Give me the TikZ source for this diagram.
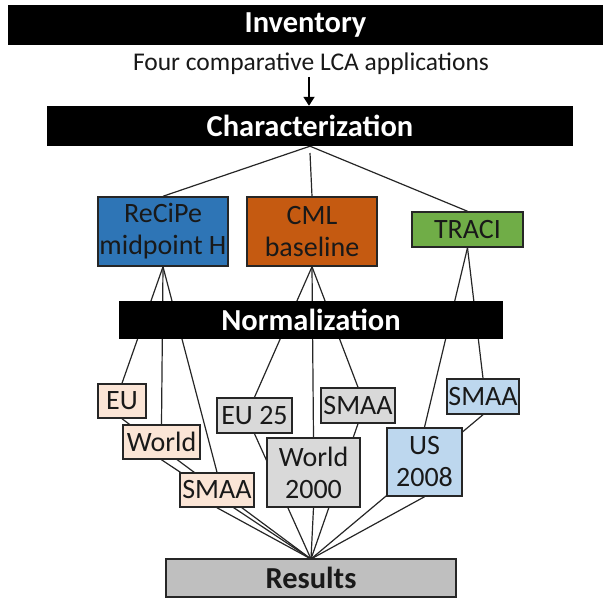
\documentclass[tikz,border=0pt]{standalone}
\usepackage{fontspec}
\setmainfont{Carlito}
\usetikzlibrary{backgrounds,arrows.meta}
\definecolor{cblue}{HTML}{2E75B6}
\definecolor{corange}{HTML}{C55A11}
\definecolor{cgreen}{HTML}{70AD47}
\definecolor{cpeach}{HTML}{FBE5D6}
\definecolor{cgrayl}{HTML}{D9D9D9}
\definecolor{cbluel}{HTML}{BDD7EE}
\definecolor{cres}{HTML}{BFBFBF}
\tikzset{
  bar/.style={fill=black, text=white, inner sep=0pt, font=\fontsize{30.5}{33}\selectfont\bfseries},
  box/.style={draw=black!85, line width=1.5pt, inner sep=0pt, align=center, text=black!90, font=\fontsize{28}{32}\selectfont},
  conn/.style={line width=1.2pt, black!85},
}
\begin{document}
\begin{tikzpicture}[x=1pt,y=-1pt]
\useasboundingbox (0,0) rectangle (611,599);
\node[bar, minimum width=595pt, minimum height=40pt] (inv) at (305.5,25.5) {Inventory};
\node[font=\fontsize{25.5}{28}\selectfont, inner sep=0pt, text=black!90] (four) at (311,63.5) {Four comparative LCA applications};
\node[bar, minimum width=526pt, minimum height=40pt] (char) at (310,126) {Characterization};
\node[box, fill=cblue, minimum width=130pt, minimum height=69pt] (recipe) at (163,231.5) {ReCiPe\\midpoint H};
\node[box, fill=corange, minimum width=130pt, minimum height=69pt] (cml) at (312,231.5) {CML\\baseline};
\node[box, fill=cgreen, minimum width=111pt, minimum height=35pt] (traci) at (467.5,229.5) {TRACI};
\node[bar, minimum width=384pt, minimum height=38pt] (norm) at (311,320) {Normalization};
\node[box, fill=cpeach, minimum width=48pt, minimum height=34pt] (eu) at (122,401) {EU};
\node[box, fill=cpeach, minimum width=77pt, minimum height=34pt] (world) at (161.5,442) {World};
\node[box, fill=cpeach, minimum width=74pt, minimum height=34pt] (smaaa) at (217,490) {SMAA};
\node[box, fill=cgrayl, minimum width=75pt, minimum height=35pt] (eutf) at (254.5,415.5) {EU 25};
\node[box, fill=cgrayl, minimum width=93pt, minimum height=69pt] (wtt) at (313.5,472.5) {World\\2000};
\node[box, fill=cgrayl, minimum width=74pt, minimum height=35pt] (smaab) at (358,405.5) {SMAA};
\node[box, fill=cbluel, minimum width=75pt, minimum height=68pt] (us) at (424.5,462) {US\\2008};
\node[box, fill=cbluel, minimum width=72pt, minimum height=35pt] (smaac) at (483,396.5) {SMAA};
\node[box, fill=cres, minimum width=290pt, minimum height=38pt, font=\fontsize{30.5}{33}\selectfont\bfseries] (res) at (311,578) {Results};
\coordinate (arrtop) at (309,77);
\coordinate (cmltop) at (310,153);
\coordinate (rtop) at (311,559);
\draw[line width=1.8pt, -{Triangle[length=9pt,width=11pt]}] (arrtop) -- (char.north -| arrtop);
\begin{pgfonlayer}{background}
\draw[conn] (char.south) -- (recipe.north);
\draw[conn] (cmltop) -- (cml.north);
\draw[conn] (char.south) -- (traci.north);
\draw[conn] (recipe.south) -- (eu.north);
\draw[conn] (recipe.south) -- (world.north);
\draw[conn] (recipe.south) -- (smaaa.north);
\draw[conn] (cml.south) -- (eutf.north);
\draw[conn] (cml.south) -- (wtt.north);
\draw[conn] (cml.south) -- (smaab.north);
\draw[conn] (traci.south) -- (us.north);
\draw[conn] (traci.south) -- (smaac.north);
\draw[conn] (eu.south) -- (rtop);
\draw[conn] (world.south) -- (rtop);
\draw[conn] (smaaa.south) -- (rtop);
\draw[conn] (eutf.south) -- (rtop);
\draw[conn] (wtt.south) -- (rtop);
\draw[conn] (smaab.south) -- (rtop);
\draw[conn] (us.south) -- (rtop);
\draw[conn] (smaac.south) -- (rtop);
\end{pgfonlayer}
\end{tikzpicture}
\end{document}
